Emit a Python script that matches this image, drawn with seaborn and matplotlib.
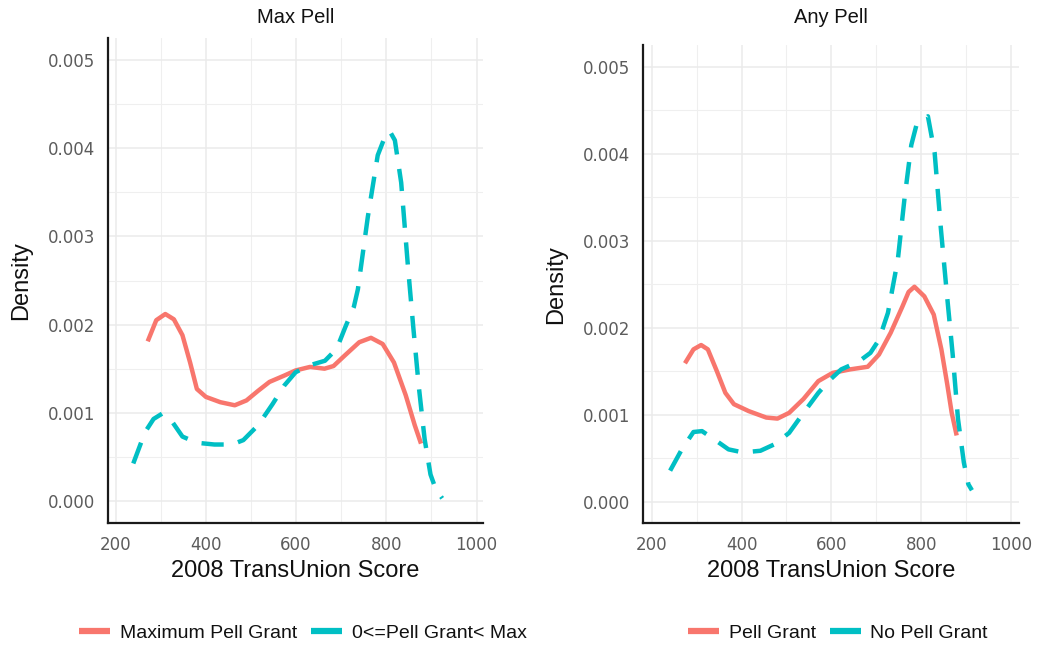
import numpy as np
import pandas as pd
import matplotlib
matplotlib.use("Agg")
import matplotlib.pyplot as plt
from matplotlib.lines import Line2D
from matplotlib.ticker import MultipleLocator, FormatStrFormatter
import seaborn as sns

# ---------------- data (density in units of 1e-3) ----------------
score_maxpell_x = [271, 290, 310, 329, 348, 365, 380, 400, 432, 464, 490, 516, 541, 573, 599, 631, 663, 683,
                   708, 740, 766, 792, 817, 843, 863, 877]
dens_maxpell = [1.81, 2.05, 2.12, 2.06, 1.88, 1.57, 1.27, 1.18, 1.12, 1.085, 1.14, 1.25, 1.35, 1.42, 1.48, 1.52,
                1.50, 1.53, 1.65, 1.80, 1.85, 1.78, 1.57, 1.20, 0.86, 0.65]

score_ltmax_x = [239, 265, 284, 303, 323, 348, 380, 419, 458, 483, 516, 548, 574, 599, 631, 664, 690, 709, 728,
                 737, 759, 781, 800, 808, 819, 833, 848, 860, 872, 885, 898, 910, 924]
dens_ltmax = [0.425, 0.78, 0.93, 0.99, 0.915, 0.73, 0.66, 0.64, 0.64, 0.69, 0.86, 1.10, 1.31, 1.46, 1.54, 1.59,
              1.725, 1.97, 2.20, 2.40, 3.22, 3.92, 4.17, 4.19, 4.09, 3.61, 2.66, 1.96, 1.30, 0.70, 0.30, 0.13, 0.03]

score_pell_x = [274, 293, 310, 325, 345, 364, 383, 416, 455, 480, 506, 538, 571, 603, 642, 681, 706, 732, 758,
                772, 785, 807, 828, 845, 858, 868, 879]
dens_pell = [1.59, 1.75, 1.80, 1.75, 1.50, 1.25, 1.12, 1.04, 0.966, 0.954, 1.02, 1.18, 1.385, 1.48, 1.52, 1.55,
             1.69, 1.94, 2.24, 2.41, 2.47, 2.36, 2.15, 1.75, 1.35, 1.02, 0.76]

score_nopell_x = [241, 267, 293, 312, 338, 371, 403, 442, 474, 506, 538, 571, 597, 622, 661, 687, 706, 726, 748,
                  763, 778, 789, 815, 830, 844, 857, 870, 882, 895, 905, 913]
dens_nopell = [0.355, 0.60, 0.80, 0.81, 0.72, 0.60, 0.565, 0.584, 0.66, 0.79, 1.02, 1.25, 1.40, 1.52, 1.61, 1.71,
               1.86, 2.17, 2.78, 3.49, 4.10, 4.32, 4.43, 4.01, 3.13, 2.40, 1.70, 0.95, 0.45, 0.20, 0.13]

panel_titles = ["Max Pell", "Any Pell"]
left_groups = ["Maximum Pell Grant", "0<=Pell Grant< Max"]
right_groups = ["Pell Grant", "No Pell Grant"]
x_ticks = [200, 400, 600, 800, 1000]
y_ticks = [0.000, 0.001, 0.002, 0.003, 0.004, 0.005]

RED = "#F8766D"
CYAN = "#00BFC4"

def make_df(gnames, xs_list, ys_list):
    frames = []
    for g, xs, ys in zip(gnames, xs_list, ys_list):
        frames.append(pd.DataFrame({"score": xs, "density": np.array(ys) * 1e-3, "group": g}))
    return pd.concat(frames, ignore_index=True)

df_left = make_df(left_groups, [score_maxpell_x, score_ltmax_x], [dens_maxpell, dens_ltmax])
df_right = make_df(right_groups, [score_pell_x, score_nopell_x], [dens_pell, dens_nopell])

sns.set_theme(style="white")
plt.rcParams["font.family"] = ["Liberation Sans", "DejaVu Sans"]

W, H = 1037, 647
fig = plt.figure(figsize=(W / 100, H / 100), dpi=100)

def px_axes(x0, x1, top, bottom):
    return fig.add_axes([x0 / W, 1 - bottom / H, (x1 - x0) / W, (bottom - top) / H])

ax1 = px_axes(107.7, 483.0, 38.0, 523.0)
ax2 = px_axes(643.0, 1019.3, 45.0, 523.3)

LW = 3.2
DASH = (5, 3.3)
specs = [
    (ax1, df_left, left_groups, (182.3, 1014.4)),
    (ax2, df_right, right_groups, (180.6, 1018.5)),
]
for ax, df, groups, xl in specs:
    sns.lineplot(data=df, x="score", y="density", hue="group", style="group",
                 hue_order=groups, style_order=groups,
                 palette={groups[0]: RED, groups[1]: CYAN},
                 dashes={groups[0]: "", groups[1]: DASH},
                 sort=False, estimator=None, lw=LW, ax=ax, legend=False)
    for ln in ax.get_lines():
        ln.set_solid_capstyle("butt")
        ln.set_dash_capstyle("butt")
        ln.set_solid_joinstyle("round")
        ln.set_dash_joinstyle("round")
    ax.set_xlim(*xl)
    ax.set_ylim(-0.00025, 0.00525)
    ax.set_xticks(x_ticks)
    ax.set_yticks(y_ticks)
    ax.xaxis.set_minor_locator(MultipleLocator(100))
    ax.yaxis.set_minor_locator(MultipleLocator(0.0005))
    ax.yaxis.set_major_formatter(FormatStrFormatter("%.3f"))
    ax.grid(True, which="major", color="#EBEBEB", lw=1.1)
    ax.grid(True, which="minor", color="#EFEFEF", lw=0.8)
    ax.set_axisbelow(True)
    for s in ["top", "right"]:
        ax.spines[s].set_visible(False)
    for s in ["left", "bottom"]:
        ax.spines[s].set_color("#1a1a1a")
        ax.spines[s].set_linewidth(1.6)
    ax.tick_params(axis="both", which="both", length=0)
    ax.tick_params(axis="y", pad=9)
    ax.tick_params(axis="x", pad=9.5)
    for lab in ax.get_xticklabels() + ax.get_yticklabels():
        lab.set_fontfamily("DejaVu Sans")
        lab.set_fontsize(12)
        lab.set_color("#5c5c5c")
    ax.set_xlabel("2008 TransUnion Score", fontsize=17, color="#111111")
    ax.set_ylabel("Density", fontsize=17, color="#111111")
    ax.xaxis.set_label_coords(0.5, -0.099)
    ax.xaxis.label.set_va("center")
    ax.yaxis.set_label_coords(-0.231, 0.5)
    ax.yaxis.label.set_va("center")
    ax.set_facecolor("white")

# titles
fig.text((107.7 + 483.0) / 2 / W, 1 - 17.5 / H, panel_titles[0], ha="center", va="center", fontsize=14.5, color="#111111")
fig.text((643.0 + 1019.3) / 2 / W, 1 - 17.5 / H, panel_titles[1], ha="center", va="center", fontsize=14.5, color="#111111")

# legends
def legend_for(groups, cx):
    handles = [Line2D([], [], color=RED, lw=4.5, solid_capstyle="butt"),
               Line2D([], [], color=CYAN, lw=4.5, solid_capstyle="butt")]
    fig.legend(handles, groups, loc="center", bbox_to_anchor=(cx / W, 1 - 633 / H),
               ncol=2, frameon=False, fontsize=14, handlelength=1.6,
               handletextpad=0.5, columnspacing=0.7, labelcolor="#111111")

legend_for(left_groups, 303)
legend_for(right_groups, 838)

fig.savefig("out.png", dpi=100, facecolor="white")
